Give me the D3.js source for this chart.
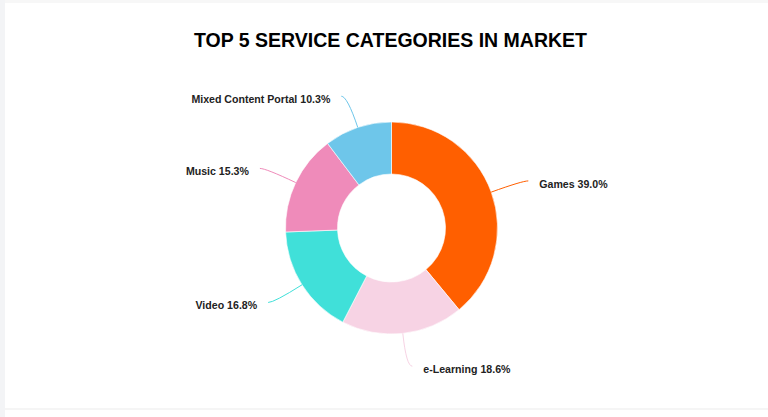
<!DOCTYPE html>
<html>
  <head>
    <meta charset="utf-8">
    <script src="https://d3js.org/d3.v7.min.js"></script>
    <title>Top 5 Service Categories</title>
    <style>
      body {
        margin: 0px;
        background: #fff;
      }
      .title {
        font-family: "Liberation Sans", Arial, sans-serif;
        font-weight: bold;
        font-size: 19.5px;
        fill: #000;
      }
      .label {
        font-family: "Liberation Sans", Arial, sans-serif;
        font-weight: bold;
        font-size: 10.6px;
        fill: #222;
      }
    </style>
  </head>
  <body>
    <svg width="768" height="417"></svg>
    <script>
      // values
      const categories = ['Games', 'e-Learning', 'Video', 'Music', 'Mixed Content Portal'];
      const shares = [39.0, 18.6, 16.8, 15.3, 10.3];
      const colors = ['#ff5f00', '#f7d3e4', '#40e0d9', '#ef8bba', '#6ec6ea'];

      const width = 768;
      const height = 417;
      const cx = 391.5;
      const cy = 228;
      const outerR = 106;
      const innerR = 54;
      const len1 = 33;   // radial part of the label line
      const len2 = 6;    // horizontal part
      const gap = 11;

      const svg = d3.select('svg');

      // faint page frame
      svg.append('rect').attr('x', 0).attr('y', 0).attr('width', 5).attr('height', height).attr('fill', '#f3f4f6');
      svg.append('rect').attr('x', 5).attr('y', 0).attr('width', width).attr('height', 3).attr('fill', '#f7f7f7');
      svg.append('rect').attr('x', 5).attr('y', 408).attr('width', width).attr('height', 2).attr('fill', '#f5f5f5');

      svg.append('text')
          .attr('class', 'title')
          .attr('x', 390.5)
          .attr('y', 47)
          .attr('text-anchor', 'middle')
          .text('TOP 5 SERVICE CATEGORIES IN MARKET');

      const data = categories.map((c, i) => ({ name: c, value: shares[i], color: colors[i] }));

      const pie = d3.pie()
        .sort(null)
        .value(d => d.value);

      const arc = d3.arc()
        .innerRadius(innerR)
        .outerRadius(outerR);

      const g = svg.append('g')
          .attr('transform', `translate(${cx},${cy})`);

      const arcs = pie(data);

      g.selectAll('.slice')
        .data(arcs)
        .enter().append('path')
          .attr('class', 'slice')
          .attr('d', arc)
          .attr('fill', d => d.data.color)
          .attr('stroke', '#fff')
          .attr('stroke-width', 0.6);

      const pointAt = (a, r) => [Math.sin(a) * r, -Math.cos(a) * r];

      arcs.forEach(d => {
        const mid = (d.startAngle + d.endAngle) / 2;
        const right = Math.sin(mid) > 0;
        const p0 = pointAt(mid, outerR);
        const p1 = pointAt(mid, outerR + len1);
        const p2 = [p1[0] + (right ? len2 : -len2), p1[1]];

        const path = d3.path();
        path.moveTo(p0[0], p0[1]);
        path.quadraticCurveTo(p1[0], p1[1], p2[0], p2[1]);

        g.append('path')
            .attr('d', path.toString())
            .attr('fill', 'none')
            .attr('stroke', d.data.color)
            .attr('stroke-width', 1);

        g.append('text')
            .attr('class', 'label')
            .attr('x', p2[0] + (right ? gap : -gap))
            .attr('y', p2[1] + 3)
            .attr('dy', '0.35em')
            .attr('text-anchor', right ? 'start' : 'end')
            .text(`${d.data.name} ${d.data.value.toFixed(1)}%`);
      });
    </script>
  </body>
</html>
